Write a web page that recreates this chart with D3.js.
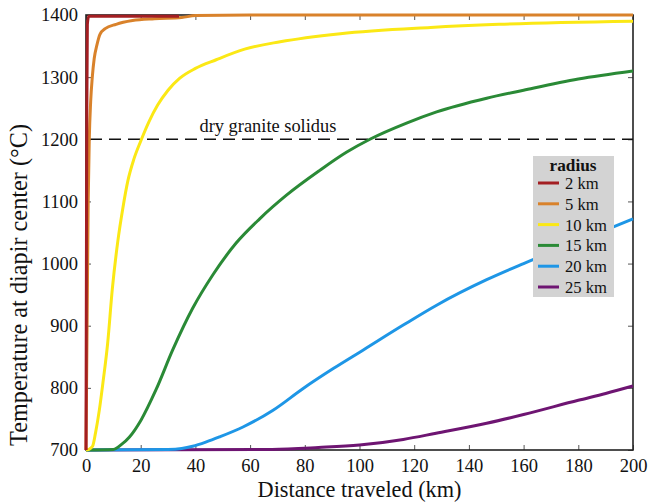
<!DOCTYPE html>
<html><head><meta charset="utf-8">
<script src="https://cdn.jsdelivr.net/npm/d3@7"></script>
<style>body{margin:0;background:#fff}svg{display:block}</style>
</head><body>
<script>
const xTicks = [0,20,40,60,80,100,120,140,160,180,200];
const yTicks = [700,800,900,1000,1100,1200,1300,1400];
const seriesNames = ["2 km","5 km","10 km","15 km","20 km","25 km"];
const seriesColors = ["#a31e22","#d9822b","#fbe815","#2a8a36","#1e96e6","#6e1572"];
const r2 = [[0,700],[0.15,1000],[0.3,1250],[0.5,1385],[1,1398],[34,1398]];
const r5 = [[0,700],[0.4,900],[0.8,1100],[1.2,1200],[1.7,1260],[2.3,1300],[3,1330],[4,1352],[5.1,1369],[7,1378],[11,1385],[17,1391],[25,1394],[35,1396],[40,1399],[60,1400],[200,1400]];
const r10 = [[0,700],[1,701],[2.4,706],[3.5,728],[4.9,765],[6.3,812],[7.9,871],[9.6,958],[11.6,1035],[13.5,1090],[15.3,1133],[17.5,1168],[20.1,1198],[23,1228],[26.2,1255],[30,1279],[34.2,1298],[40,1314],[47.6,1328],[58,1345],[71,1357],[93,1370],[126,1380],[151,1385],[200,1390]];
const r15 = [[0,700],[10,701],[13,709],[15.9,721],[20.1,748],[25.6,797],[31.7,861],[39,928],[46.4,982],[54.9,1033],[63.5,1072],[73.3,1110],[85.5,1150],[95.2,1179],[103.8,1200],[117.2,1226],[128.2,1244],[146.5,1266],[160,1279],[180,1297],[200,1310]];
const r20 = [[0,700],[30,701],[35,702.5],[39,706],[44,713],[48.8,721],[57.4,737],[68.4,764],[79.4,799],[90.4,831],[101.4,861],[116,901],[128.2,933],[146.5,974],[160,1000],[180,1036],[200,1072]];
const r25 = [[0,700],[68,701],[85,704],[100,708],[116,717],[128,727],[146.5,743],[160,757],[180,780],[190,791],[200,803]];
const seriesData = [r2,r5,r10,r15,r20,r25];
const solidus = 1200;
const solidusLabel = "dry granite solidus";

const W=649,H=504;
const m={l:86,r:16,t:15,b:54};
const svg=d3.select("body").append("svg").attr("width",W).attr("height",H);
const x=d3.scaleLinear().domain([0,200]).range([m.l,W-m.r]);
const y=d3.scaleLinear().domain([700,1400]).range([H-m.b,m.t]);
const font="Liberation Serif, Times New Roman, serif";
const fmt=d3.format("d");

function fitSize(sel,target){
  const fs=+sel.attr("font-size"); const w=sel.node().getComputedTextLength();
  return w>0 ? fs*target/w : fs;
}
function fit(sel,target){ sel.attr("font-size",fitSize(sel,target).toFixed(2)); return sel; }

function styleAxis(sel,hideText){
  sel.attr("font-family",font);
  sel.select(".domain").remove();
  sel.selectAll("line").attr("stroke","#555").attr("stroke-width",1);
  sel.selectAll("text").attr("font-family",font).attr("font-size",18).attr("fill","#111");
  if(hideText) sel.selectAll("text").remove();
}
svg.append("g").attr("transform",`translate(0,${y(700)})`)
 .call(d3.axisBottom(x).tickValues(xTicks).tickFormat(fmt).tickSizeInner(-5).tickSizeOuter(0).tickPadding(9))
 .call(s=>styleAxis(s,false));
svg.append("g").attr("transform",`translate(0,${y(1400)})`)
 .call(d3.axisTop(x).tickValues(xTicks).tickSizeInner(-5).tickSizeOuter(0))
 .call(s=>styleAxis(s,true));
const yAx=svg.append("g").attr("transform",`translate(${x(0)},0)`)
 .call(d3.axisLeft(y).tickValues(yTicks).tickFormat(fmt).tickSizeInner(-5).tickSizeOuter(0).tickPadding(8))
 .call(s=>styleAxis(s,false));
svg.append("g").attr("transform",`translate(${x(200)},0)`)
 .call(d3.axisRight(y).tickValues(yTicks).tickSizeInner(-5).tickSizeOuter(0))
 .call(s=>styleAxis(s,true));
{
  const t=yAx.selectAll("text").filter(d=>d===1400);
  svg.selectAll(".tick text").attr("font-size",fitSize(t,37).toFixed(2));
}

// frame
svg.append("rect").attr("x",x(0)).attr("y",y(1400)).attr("width",x(200)-x(0)).attr("height",y(700)-y(1400))
 .attr("fill","none").attr("stroke","#222").attr("stroke-width",1.6);

// solidus
svg.append("line").attr("x1",x(0)).attr("x2",x(200)).attr("y1",y(solidus)).attr("y2",y(solidus))
 .attr("stroke","#111").attr("stroke-width",1.5).attr("stroke-dasharray","12,7").attr("stroke-dashoffset",-4);
fit(svg.append("text").attr("x",x(41.5)).attr("y",y(solidus)-7).attr("font-family",font).attr("font-size",17).attr("fill","#111").text(solidusLabel),137);

// curves
const line=d3.line().x(d=>x(d[0])).y(d=>y(d[1])).curve(d3.curveMonotoneX);
for(let i=seriesData.length-1;i>=0;i--){
  svg.append("path").datum(seriesData[i]).attr("d",line).attr("fill","none")
   .attr("stroke",seriesColors[i]).attr("stroke-width",3).attr("stroke-linejoin","round");
}

// legend
const lg=svg.append("g").attr("font-family",font);
lg.append("rect").attr("x",533).attr("y",156).attr("width",81).attr("height",141).attr("fill","#d3d3d3");
fit(lg.append("text").attr("x",573).attr("y",171).attr("text-anchor","middle").attr("font-weight","bold").attr("font-size",16).attr("fill","#111").text("radius"),47);
const legTexts=[];
seriesNames.forEach((n,i)=>{
  const yy=183+i*20.8;
  lg.append("line").attr("x1",538).attr("x2",559).attr("y1",yy).attr("y2",yy).attr("stroke",seriesColors[i]).attr("stroke-width",3);
  legTexts.push(lg.append("text").attr("x",565).attr("y",yy+6).attr("font-size",17).attr("fill","#111").text(n));
});
{
  const fs=fitSize(legTexts[2],42).toFixed(2);
  legTexts.forEach(t=>t.attr("font-size",fs));
}

// axis titles
fit(svg.append("text").attr("x",(x(0)+x(200))/2).attr("y",497).attr("text-anchor","middle")
 .attr("font-family",font).attr("font-size",21).attr("fill","#111").text("Distance traveled (km)"),204);
fit(svg.append("text").attr("transform",`translate(27,285) rotate(-90)`).attr("text-anchor","middle")
 .attr("font-family",font).attr("font-size",21).attr("fill","#111").text("Temperature at diapir center (°C)"),322);
</script>
</body></html>
